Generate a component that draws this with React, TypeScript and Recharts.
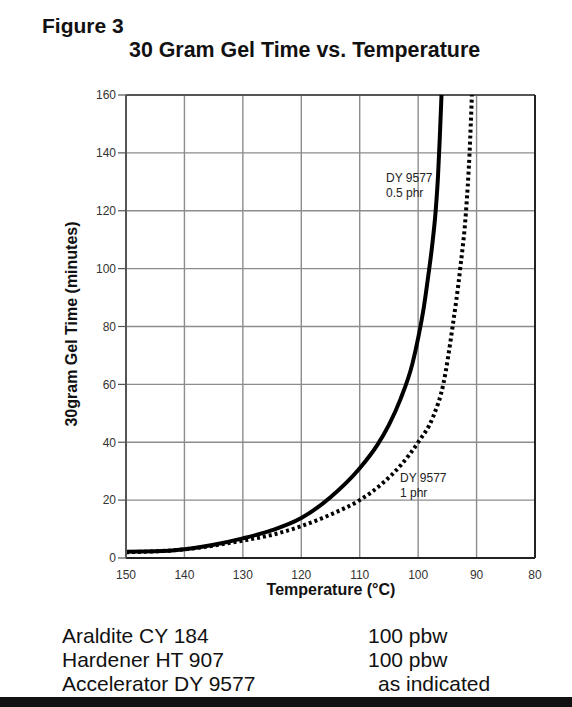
import React from "react";
import { LineChart, Line, XAxis, YAxis, CartesianGrid, ReferenceLine } from "recharts";

// DY 9577 at 0.5 phr (solid)
const temps05 = [150, 145, 140, 135, 130, 125, 120, 115, 110, 107, 105, 103, 101, 100, 99, 98.3, 97.6, 97, 96.6, 96.3, 96];
const gel05 = [2.2, 2.3, 3, 4.6, 6.8, 9.6, 13.8, 21, 31, 39, 46, 55, 67, 76, 87, 97, 108, 120, 132, 145, 160];

// DY 9577 at 1 phr (dotted)
const temps1 = [150, 140, 130, 125, 120, 115, 110, 106, 103, 100, 97.4, 95.7, 94.1, 92.8, 91.8, 91.2, 90.8];
const gel1 = [2, 3, 6, 8, 11, 15, 20, 26, 32, 40, 49, 60, 80, 100, 120, 140, 160];

const xTicks = [150, 140, 130, 120, 110, 100, 90, 80];
const yTicks = [0, 20, 40, 60, 80, 100, 120, 140, 160];

const recipe = [
  ["Araldite CY 184", "100 pbw"],
  ["Hardener HT 907", "100 pbw"],
  ["Accelerator DY 9577", "as indicated"],
];

const data05 = temps05.map((t, i) => ({ t, v: gel05[i] }));
const data1 = temps1.map((t, i) => ({ t, v: gel1[i] }));

const FONT = "'Liberation Sans', Arial, sans-serif";

export default function App() {
  return (
    <div style={{ position: "absolute", left: 0, top: 0, width: 572, height: 707, background: "#fff", fontFamily: FONT }}>
      <LineChart width={572} height={620} margin={{ top: 95, right: 37, left: 66, bottom: 32 }}>
        <CartesianGrid stroke="#8c8c8c" strokeWidth={1.4} />
        <XAxis
          type="number"
          dataKey="t"
          domain={[80, 150]}
          reversed
          ticks={xTicks}
          height={30}
          tickLine={false}
          tickMargin={6}
          axisLine={{ stroke: "#222", strokeWidth: 2 }}
          tick={{ fill: "#333", fontSize: 12, fontFamily: FONT }}
          allowDuplicatedCategory={false}
        />
        <YAxis
          type="number"
          domain={[0, 160]}
          ticks={yTicks}
          width={60}
          tickSize={8}
          tickMargin={2}
          axisLine={{ stroke: "#555", strokeWidth: 2 }}
          tickLine={{ stroke: "#555", strokeWidth: 1.2 }}
          tick={{ fill: "#333", fontSize: 12, fontFamily: FONT }}
        />
        <ReferenceLine y={160} stroke="#555" strokeWidth={2} />
        <ReferenceLine x={80} stroke="#222" strokeWidth={2} />
        <Line
          data={data05}
          dataKey="v"
          type="monotone"
          stroke="#000"
          strokeWidth={4}
          dot={false}
          isAnimationActive={false}
        />
        <Line
          data={data1}
          dataKey="v"
          type="monotone"
          stroke="#000"
          strokeWidth={4}
          strokeDasharray="3 3"
          dot={false}
          isAnimationActive={false}
        />
      </LineChart>
      <svg
        width={572}
        height={707}
        style={{ position: "absolute", left: 0, top: 0, pointerEvents: "none" }}
        fontFamily={FONT}
      >
        <text x={42} y={33} fontSize={21} fontWeight="bold" fill="#111">Figure 3</text>
        <text x={129} y={57} fontSize={21.4} fontWeight="bold" fill="#111">30 Gram Gel Time vs. Temperature</text>
        <text transform="translate(77,324) rotate(-90)" textAnchor="middle" fontSize={16} fontWeight="bold" fill="#111">
          30gram Gel Time (minutes)
        </text>
        <text x={331} y={595} textAnchor="middle" fontSize={16} fontWeight="bold" fill="#111">Temperature (°C)</text>
        <text x={386} y={182} fontSize={12} fill="#222">DY 9577</text>
        <text x={386} y={197} fontSize={12} fill="#222">0.5 phr</text>
        <text x={400} y={482} fontSize={12} fill="#222">DY 9577</text>
        <text x={400} y={497} fontSize={12} fill="#222">1 phr</text>
        {recipe.map(([name, amount], i) => (
          <g key={name}>
            <text x={62} y={643 + i * 24} fontSize={21} fill="#111">{name}</text>
            <text x={i === 2 ? 378 : 368} y={643 + i * 24} fontSize={21} fill="#111">{amount}</text>
          </g>
        ))}
        <rect x={0} y={697} width={572} height={10} fill="#111" />
      </svg>
    </div>
  );
}
